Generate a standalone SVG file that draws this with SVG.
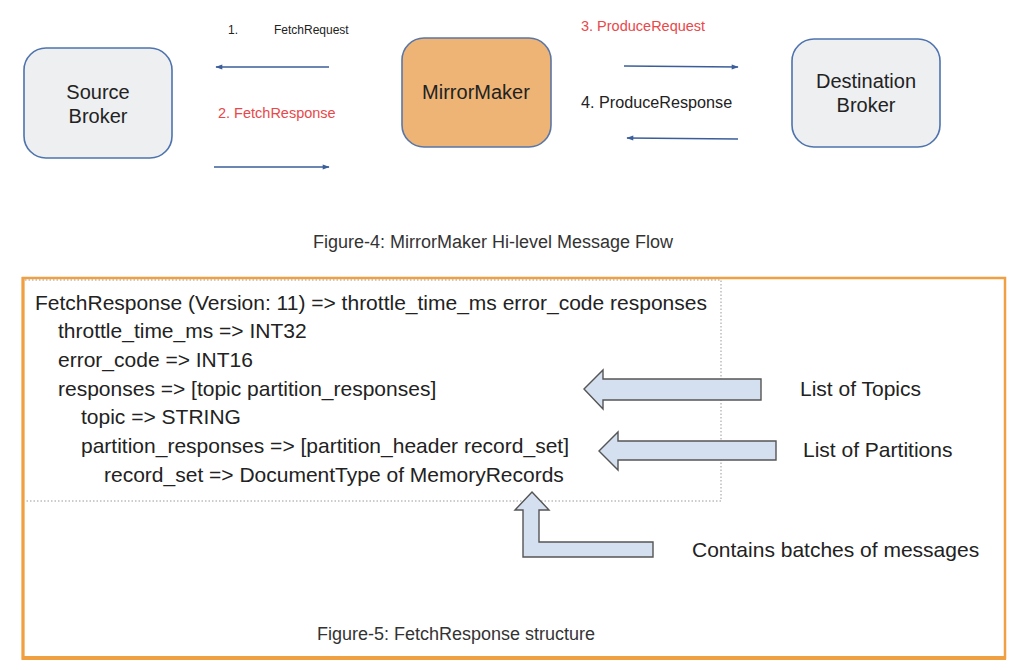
<svg xmlns="http://www.w3.org/2000/svg" width="1024" height="670" viewBox="0 0 1024 670">
<style>
text{font-family:"Liberation Sans",Arial,sans-serif;fill:#222}
.box{fill:#eeeff1;stroke:#4e73ad;stroke-width:1.6}
.mm{fill:#edb476;stroke:#5a76a6;stroke-width:1.6}
.node{font-size:20px;text-anchor:middle}
.lbl{font-size:14.5px}
.red{fill:#e8484a}
.flow{stroke:#3b5e9b;stroke-width:1.6;fill:none}
.code{font-size:21px}
.blk{fill:#d4dfef;stroke:#555;stroke-width:1.4}
.note{font-size:21px}
.cap{font-size:18px;fill:#333}
</style>
<defs>
<marker id="ah" viewBox="0 0 10 10" refX="9" refY="5" markerWidth="8" markerHeight="7" orient="auto-start-reverse" markerUnits="userSpaceOnUse">
<path d="M0,1.5 L10,5 L0,8.5 Z" fill="#3b5e9b"/>
</marker>
</defs>
<rect width="1024" height="670" fill="#fff"/>
<g id="source-broker">
<rect class="box" x="24" y="48" width="148" height="110" rx="22"/>
<text class="node" x="98" y="99">Source</text>
<text class="node" x="98" y="123">Broker</text>
</g>
<g id="mirrormaker">
<rect class="mm" x="402" y="38" width="149" height="109" rx="22"/>
<text class="node" x="476" y="99">MirrorMaker</text>
</g>
<g id="destination-broker">
<rect class="box" x="792" y="39" width="148" height="108" rx="22"/>
<text class="node" x="866" y="88">Destination</text>
<text class="node" x="866" y="112">Broker</text>
</g>
<g id="connectors">
<line class="flow" x1="329" y1="67" x2="216" y2="67" marker-end="url(#ah)"/>
<line class="flow" x1="214" y1="167" x2="329" y2="167" marker-end="url(#ah)"/>
<line class="flow" x1="624" y1="66" x2="738" y2="67" marker-end="url(#ah)"/>
<line class="flow" x1="738" y1="139" x2="627" y2="138" marker-end="url(#ah)"/>
</g>
<g id="flow-labels">
<text x="228" y="34" style="font-size:12px">1.</text>
<text x="274" y="34" style="font-size:12px">FetchRequest</text>
<text class="lbl red" x="218" y="118">2.  FetchResponse</text>
<text class="lbl red" x="581" y="31">3.  ProduceRequest</text>
<text x="581" y="108" style="font-size:16.2px">4.  ProduceResponse</text>
</g>
<text class="cap" x="493" y="248" text-anchor="middle">Figure-4: MirrorMaker Hi-level Message Flow</text>
<g id="figure5">
<rect x="23" y="278" width="982" height="380" fill="none" stroke="#f0a040" stroke-width="2.5"/>
<line x1="22" y1="658" x2="1006" y2="658" stroke="#f0a040" stroke-width="4"/>
<line x1="23" y1="277" x2="23" y2="660" stroke="#f0a040" stroke-width="3"/>
<path d="M25,280 H721 V501 H25" fill="none" stroke="#999" stroke-width="1" stroke-dasharray="1.5,2"/>
<text class="code" x="35" y="310">FetchResponse (Version: 11) =&gt; throttle_time_ms error_code responses</text>
<text class="code" x="58" y="338">throttle_time_ms =&gt; INT32</text>
<text class="code" x="58" y="367">error_code =&gt; INT16</text>
<text class="code" x="58" y="396">responses =&gt; [topic partition_responses]</text>
<text class="code" x="81" y="424">topic =&gt; STRING</text>
<text class="code" x="81" y="453">partition_responses =&gt; [partition_header record_set]</text>
<text class="code" x="104" y="482">record_set =&gt; DocumentType of MemoryRecords</text>
</g>
<g id="topics-arrow">
<polygon class="blk" points="584,389 603,370 603,379 761,379 761,400 603,400 603,409"/>
<text class="note" x="800" y="396">List of Topics</text>
</g>
<g id="partitions-arrow">
<polygon class="blk" points="599,451 618,432 618,441 776,441 776,460 618,460 618,470"/>
<text class="note" x="803" y="457">List of Partitions</text>
</g>
<g id="batches-arrow">
<polygon class="blk" points="532,492 549,510 539,510 539,542 653,542 653,557 523,557 523,510 515,510"/>
<text class="note" x="692" y="557">Contains batches of messages</text>
</g>
<text class="cap" x="317" y="640">Figure-5: FetchResponse structure</text>
</svg>
